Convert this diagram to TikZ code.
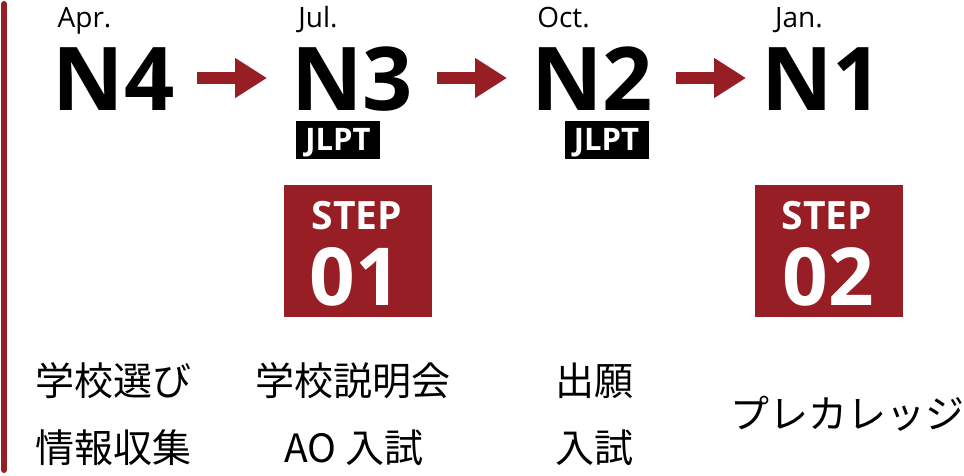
\documentclass[tikz,border=0pt]{standalone}
\usepackage{fontspec}
\setmainfont{Open Sans}
\newfontfamily\jpfont{Noto Sans CJK JP}
\usetikzlibrary{arrows.meta}
\definecolor{jred}{RGB}{150,30,36}
\begin{document}
\begin{tikzpicture}[x=1pt,y=-1pt,
  month/.style={anchor=base,inner sep=0pt,font=\fontsize{28}{28}\selectfont},
  level/.style={anchor=base,inner sep=0pt,font=\fontsize{88}{88}\selectfont\bfseries},
  jlptbox/.style={fill=black,minimum width=84pt,minimum height=38pt,inner sep=0pt},
  jlpttxt/.style={anchor=base,inner sep=0pt,text=white,font=\fontsize{31}{31}\selectfont\bfseries},
  stepbox/.style={fill=jred,minimum width=148pt,minimum height=132pt,inner sep=0pt},
  steptxt/.style={anchor=base,inner sep=0pt,text=white,font=\fontsize{39}{39}\selectfont\bfseries},
  stepnum/.style={anchor=base,inner sep=0pt,text=white,font=\fontsize{80}{80}\selectfont\bfseries},
  jp/.style={anchor=base,inner sep=0pt,font=\jpfont\fontsize{39}{39}\selectfont},
  arr/.style={draw=jred,line width=12pt,-{Triangle[length=32pt,width=38pt]}},
  bar/.style={draw=jred,line width=6pt,line cap=round}
]
\useasboundingbox (0,0) rectangle (964,475);
% left bar
\coordinate (bt) at (4,4);
\coordinate (bb) at (4,470);
\draw[bar] (bt) -- (bb);
% months
\node[month] (apr) at (84.5,27) {Apr.};
\node[month] (jul) at (318,27) {Jul.};
\node[month] (oct) at (563.5,27) {Oct.};
\node[month] (jan) at (799,27) {Jan.};
% levels
\node[level] (n4) at (113.5,110) {N4};
\node[level] (n3) at (352,110) {N3};
\node[level] (n2) at (592,110) {N2};
\node[level] (n1) at (822,110) {N1};
% arrows
\coordinate (a1s) at (197,78); \coordinate (a1e) at (267,78);
\coordinate (a2s) at (437,78); \coordinate (a2e) at (507,78);
\coordinate (a3s) at (676,78); \coordinate (a3e) at (746,78);
\draw[arr] (a1s) -- (a1e);
\draw[arr] (a2s) -- (a2e);
\draw[arr] (a3s) -- (a3e);
% JLPT tags
\node[jlptbox] (j3) at (338,140) {};
\node[jlpttxt] (j3t) at (338,150.5) {JLPT};
\node[jlptbox] (j2) at (606.5,140) {};
\node[jlpttxt] (j2t) at (606.5,150.5) {JLPT};
% step boxes
\node[stepbox] (s1) at (358,251) {};
\node[steptxt] (s1a) at (357,229) {STEP};
\node[stepnum] (s1b) at (355,305) {01};
\node[stepbox] (s2) at (828.5,251) {};
\node[steptxt] (s2a) at (827,229) {STEP};
\node[stepnum] (s2b) at (828,305) {02};
% Japanese labels
\node[jp] (t1) at (113.5,395) {学校選び};
\node[jp] (t2) at (113.5,462) {情報収集};
\node[jp] (t3) at (352.5,395) {学校説明会};
\node[jp] (t4) at (354,462) {AO 入試};
\node[jp] (t5) at (594,395) {出願};
\node[jp] (t6) at (594,462) {入試};
\node[jp] (t7) at (847.5,428) {プレカレッジ};
\end{tikzpicture}
\end{document}
